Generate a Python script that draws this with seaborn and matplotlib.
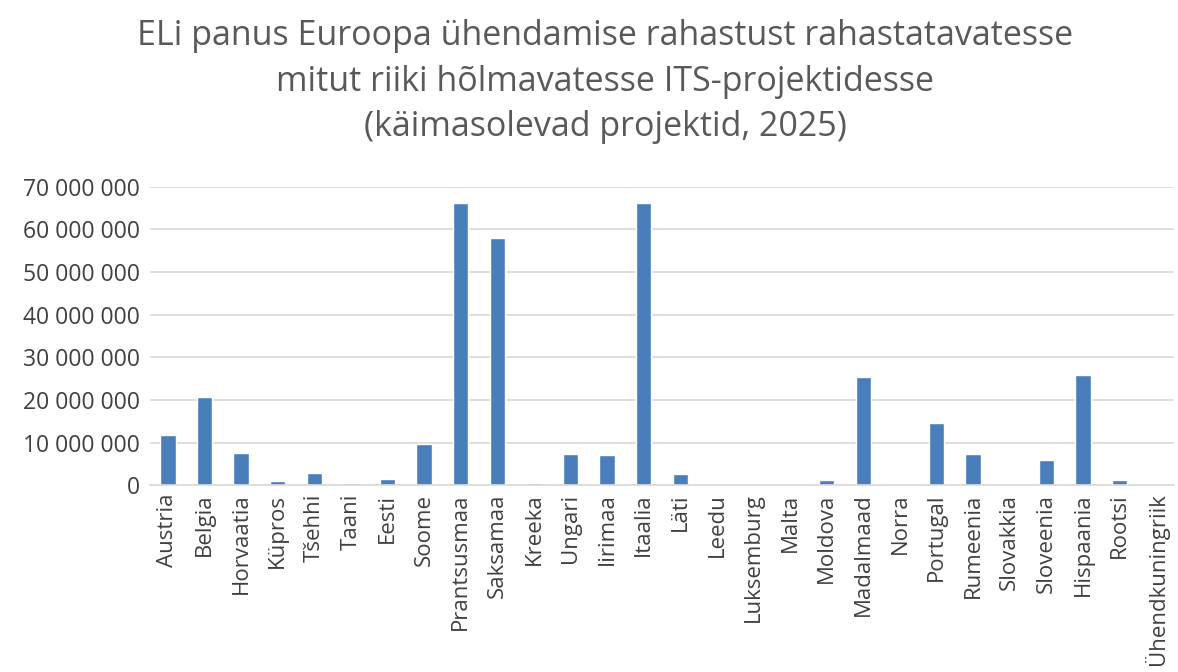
import pandas as pd
import matplotlib.pyplot as plt
import matplotlib.ticker as mticker
import seaborn as sns

# Riigid ja EL-i panus (eurot), loetud jooniselt
countries = ['Austria', 'Belgia', 'Horvaatia', 'Küpros', 'Tšehhi', 'Taani', 'Eesti', 'Soome',
             'Prantsusmaa', 'Saksamaa', 'Kreeka', 'Ungari', 'Iirimaa', 'Itaalia', 'Läti', 'Leedu',
             'Luksemburg', 'Malta', 'Moldova', 'Madalmaad', 'Norra', 'Portugal', 'Rumeenia',
             'Slovakkia', 'Sloveenia', 'Hispaania', 'Rootsi', 'Ühendkuningriik']
contribution = [11.7e6, 20.7e6, 7.5e6, 1.0e6, 2.8e6, 0.5e6, 1.4e6, 9.6e6,
                66.2e6, 58.0e6, 0.6e6, 7.3e6, 7.0e6, 66.2e6, 2.6e6, 0,
                0, 0, 1.1e6, 25.3e6, 0, 14.5e6, 7.2e6,
                0, 6.0e6, 25.8e6, 1.2e6, 0]
y_ticks = [0, 10e6, 20e6, 30e6, 40e6, 50e6, 60e6, 70e6]

df = pd.DataFrame({'riik': countries, 'panus': contribution})

sns.set_style('white')
plt.rcParams['font.family'] = ['Open Sans', 'DejaVu Sans']

fig = plt.figure(figsize=(11.78, 6.72), dpi=100)
ax = fig.add_axes([0.127, 0.278, 0.870, 0.444])

sns.barplot(data=df, x='riik', y='panus', color='#4a7ebb', saturation=1, width=0.42, ax=ax)

ax.set_ylim(0, 70e6)
ax.set_yticks(y_ticks)
ax.yaxis.set_major_formatter(mticker.FuncFormatter(lambda v, p: f'{int(v):,}'.replace(',', ' ')))
ax.yaxis.grid(True, color='#d9d9d9', linewidth=1.2)
ax.set_axisbelow(True)
for s in ['top', 'right', 'left']:
    ax.spines[s].set_visible(False)
ax.spines['bottom'].set_color('#d9d9d9')
ax.spines['bottom'].set_linewidth(1.2)
ax.tick_params(axis='both', length=0, labelcolor='#404040')
ax.tick_params(axis='y', labelsize=16.5, pad=7)
ax.tick_params(axis='x', labelsize=16, pad=6)
plt.xticks(rotation=90)
ax.set_xlabel('')
ax.set_ylabel('')
ax.set_xlim(-0.5, len(countries) - 0.5)

fig.text(0.514, 0.972, 'ELi panus Euroopa ühendamise rahastust rahastatavatesse\n'
         'mitut riiki hõlmavatesse ITS-projektidesse\n(käimasolevad projektid, 2025)',
         ha='center', va='top', fontsize=24.5, color='#595959', linespacing=1.45)

fig.savefig('out.png', dpi=100)
